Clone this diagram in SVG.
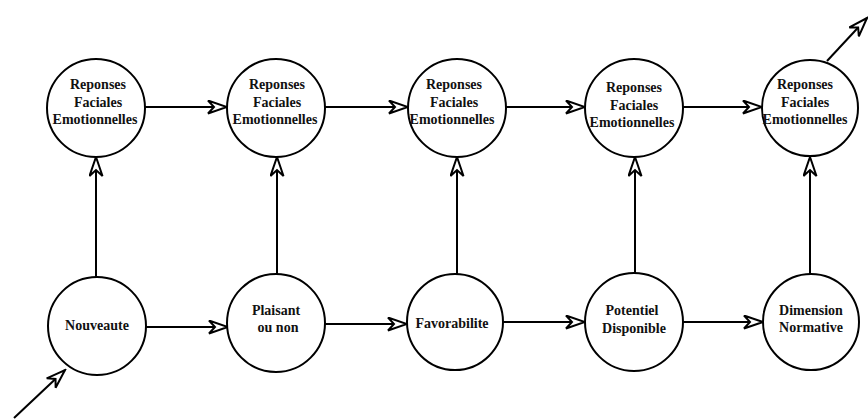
<svg xmlns="http://www.w3.org/2000/svg" width="868" height="419" viewBox="0 0 868 419">
<style>
.n{fill:#fff;stroke:#000;stroke-width:2}
.t{font-family:"Liberation Serif","Times New Roman",serif;font-weight:bold;font-size:14px;fill:#111;text-anchor:middle}
.c{stroke:#000;stroke-width:2;fill:none;marker-end:url(#ah)}
</style>
<defs>
<marker id="ah" markerWidth="22" markerHeight="16" refX="20" refY="7.5" orient="auto" markerUnits="userSpaceOnUse">
<path d="M1,1 L20,7.5 L1,14 L7,7.5 Z" fill="#fff" stroke="#000" stroke-width="2" stroke-linejoin="miter"/>
</marker>
</defs>
<rect width="868" height="419" fill="#fff"/>
<g id="connectors">
<line class="c" x1="145" y1="107" x2="227" y2="107"/>
<line class="c" x1="325" y1="107" x2="408" y2="107"/>
<line class="c" x1="506" y1="107" x2="585" y2="107"/>
<line class="c" x1="683" y1="107" x2="762" y2="107"/>
<line class="c" x1="146" y1="327" x2="228" y2="327"/>
<line class="c" x1="325" y1="324" x2="407" y2="324"/>
<line class="c" x1="503" y1="322" x2="585" y2="322"/>
<line class="c" x1="683" y1="322" x2="763" y2="322"/>
<line class="c" x1="96" y1="277" x2="96" y2="157"/>
<line class="c" x1="277" y1="274" x2="277" y2="157"/>
<line class="c" x1="457" y1="274" x2="457" y2="157"/>
<line class="c" x1="635" y1="274" x2="635" y2="157"/>
<line class="c" x1="810" y1="274" x2="810" y2="157"/>
<line class="c" x1="14" y1="418" x2="65" y2="370"/>
<line class="c" x1="827" y1="61" x2="867" y2="18"/>
</g>
<g id="r1"><circle class="n" cx="96" cy="108" r="49"/><text class="t" y="89"><tspan x="98">Reponses</tspan><tspan x="98" dy="17.5">Faciales</tspan><tspan x="95" dy="17.5">Emotionnelles</tspan></text></g>
<g id="r2"><circle class="n" cx="276" cy="108" r="49"/><text class="t" y="89"><tspan x="277">Reponses</tspan><tspan x="277" dy="17.5">Faciales</tspan><tspan x="275" dy="17.5">Emotionnelles</tspan></text></g>
<g id="r3"><circle class="n" cx="457" cy="108" r="49"/><text class="t" y="89"><tspan x="454">Reponses</tspan><tspan x="454" dy="17.5">Faciales</tspan><tspan x="452" dy="17.5">Emotionnelles</tspan></text></g>
<g id="r4"><circle class="n" cx="634" cy="108" r="49"/><text class="t" y="92"><tspan x="634">Reponses</tspan><tspan x="634" dy="17.5">Faciales</tspan><tspan x="632" dy="17.5">Emotionnelles</tspan></text></g>
<g id="r5"><circle class="n" cx="810" cy="108" r="48"/><text class="t" y="89"><tspan x="805">Reponses</tspan><tspan x="805" dy="17.5">Faciales</tspan><tspan x="805" dy="17.5">Emotionnelles</tspan></text></g>
<g id="b1"><circle class="n" cx="97" cy="326" r="49"/><text class="t" x="97" y="330">Nouveaute</text></g>
<g id="b2"><circle class="n" cx="276" cy="323" r="49"/><text class="t" y="315"><tspan x="276">Plaisant</tspan><tspan x="278" dy="17">ou non</tspan></text></g>
<g id="b3"><circle class="n" cx="455" cy="322" r="48"/><text class="t" x="452" y="328">Favorabilite</text></g>
<g id="b4"><circle class="n" cx="634" cy="322" r="49"/><text class="t" y="315"><tspan x="632">Potentiel</tspan><tspan x="634" dy="18">Disponible</tspan></text></g>
<g id="b5"><circle class="n" cx="811" cy="322" r="48"/><text class="t" y="315"><tspan x="811">Dimension</tspan><tspan x="811" dy="17">Normative</tspan></text></g>
</svg>
